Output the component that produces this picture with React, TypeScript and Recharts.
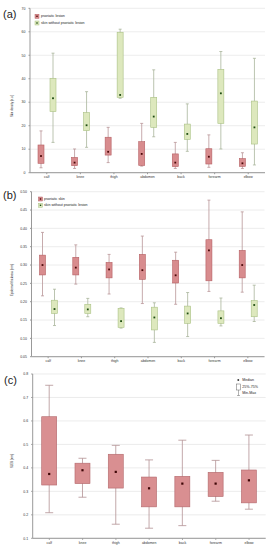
import React from "react";
import { Bar, CartesianGrid, ComposedChart, XAxis, YAxis } from "recharts";

const FONT = "'Liberation Sans', Arial, sans-serif";

const categories = ["calf", "knee", "thigh", "abdomen", "back", "forearm", "elbow"];

// every entry: [min, q1, median, q3, max]
const densityLesion = [
  [2.1, 4.0, 7.1, 11.8, 17.8],
  [1.8, 3.0, 4.3, 6.5, 10.1],
  [4.3, 7.5, 8.9, 15.1, 19.3],
  [2.8, 3.1, 8.0, 13.2, 21.0],
  [1.8, 2.6, 4.3, 8.0, 12.9],
  [2.3, 3.7, 6.8, 10.2, 16.1],
  [1.8, 2.7, 4.0, 6.0, 8.5],
];
const densityNormal = [
  [12.9, 26.0, 31.7, 40.2, 50.9],
  [10.8, 17.9, 20.2, 25.6, 34.5],
  [31.7, 32.1, 33.1, 59.8, 61.1],
  [15.3, 19.3, 23.9, 32.1, 43.8],
  [9.1, 14.2, 16.5, 20.7, 29.3],
  [10.1, 21.0, 33.8, 44.0, 51.6],
  [3.3, 12.2, 19.3, 30.5, 48.7],
];
const thicknessLesion = [
  [0.216, 0.273, 0.3, 0.327, 0.389],
  [0.248, 0.273, 0.293, 0.321, 0.355],
  [0.221, 0.265, 0.288, 0.307, 0.329],
  [0.195, 0.261, 0.286, 0.329, 0.379],
  [0.193, 0.251, 0.272, 0.313, 0.335],
  [0.228, 0.257, 0.34, 0.369, 0.477],
  [0.226, 0.265, 0.3, 0.34, 0.445],
];
const thicknessNormal = [
  [0.135, 0.168, 0.18, 0.204, 0.234],
  [0.159, 0.168, 0.179, 0.193, 0.209],
  [0.128, 0.13, 0.147, 0.182, 0.183],
  [0.089, 0.123, 0.157, 0.185, 0.197],
  [0.105, 0.141, 0.168, 0.188, 0.225],
  [0.134, 0.141, 0.155, 0.175, 0.21],
  [0.146, 0.159, 0.191, 0.203, 0.245],
];
const sleb = [
  [0.209, 0.327, 0.374, 0.618, 0.752],
  [0.275, 0.333, 0.39, 0.42, 0.441],
  [0.16, 0.314, 0.383, 0.458, 0.496],
  [0.143, 0.234, 0.313, 0.361, 0.434],
  [0.154, 0.234, 0.333, 0.364, 0.518],
  [0.258, 0.278, 0.333, 0.381, 0.432],
  [0.224, 0.251, 0.347, 0.391, 0.54],
];

const ticksA = [0, 10, 20, 30, 40, 50, 60, 70];
const ticksB = [0.05, 0.1, 0.15, 0.2, 0.25, 0.3, 0.35, 0.4, 0.45, 0.5];
const ticksC = [0.1, 0.2, 0.3, 0.4, 0.5, 0.6, 0.7, 0.8];

interface BoxStyle {
  fill: string;
  stroke: string;
  whisker: string;
  median: string;
  cap: number;
  dot: number;
}

const redSmall: BoxStyle = { fill: "#d88c8e", stroke: "#b55f63", whisker: "#b99598", median: "#4a0808", cap: 3, dot: 1.8 };
const greenSmall: BoxStyle = { fill: "#dde8bd", stroke: "#aac184", whisker: "#a9b59c", median: "#1c4a10", cap: 3, dot: 1.8 };
const redBig: BoxStyle = { fill: "#d98f91", stroke: "#b2676b", whisker: "#b39294", median: "#3e0606", cap: 8, dot: 2.2 };

const FRAME = "#999";
const GRID = "#e4e4e4";

function boxShape(key: string, s: BoxStyle) {
  return (props: any) => {
    const { x, y, width, height, payload } = props;
    const [mn, q1, md, q3, mx] = payload[key] as number[];
    const top = Math.min(y, y + height);
    const span = Math.abs(height);
    const py = (v: number) => top + (span * (mx - v)) / (mx - mn);
    const cx = x + width / 2;
    return (
      <g>
        <line x1={cx} x2={cx} y1={py(mx)} y2={py(mn)} stroke={s.whisker} strokeWidth={0.8} />
        <line x1={cx - s.cap / 2} x2={cx + s.cap / 2} y1={py(mx)} y2={py(mx)} stroke={s.whisker} strokeWidth={0.8} />
        <line x1={cx - s.cap / 2} x2={cx + s.cap / 2} y1={py(mn)} y2={py(mn)} stroke={s.whisker} strokeWidth={0.8} />
        <rect x={x} y={py(q3)} width={width} height={py(q1) - py(q3)} fill={s.fill} stroke={s.stroke} strokeWidth={0.6} />
        <rect x={cx - s.dot / 2} y={py(md) - s.dot / 2} width={s.dot} height={s.dot} fill={s.median} />
      </g>
    );
  };
}

function makeRows(a: number[][], b?: number[][]) {
  return categories.map((cat, i) => ({
    cat,
    a: a[i],
    aRange: [a[i][0], a[i][4]],
    b: b ? b[i] : undefined,
    bRange: b ? [b[i][0], b[i][4]] : undefined,
  }));
}

interface PanelProps {
  top: number;
  height: number;
  mt: number;
  mb: number;
  mr: number;
  yw: number;
  domain: [number, number];
  ticks: number[];
  digits: number;
  rows: any[];
  styles: BoxStyle[];
  barSize: number;
  barGap: number;
}

function Panel(p: PanelProps) {
  const tickFont = { fontSize: 3.5, fill: "#333", fontFamily: FONT };
  const fmt = (v: number) => (p.digits === 0 ? String(v) : v.toFixed(p.digits));
  return (
    <div style={{ position: "absolute", left: 0, top: p.top }}>
      <ComposedChart
        width={273}
        height={p.height}
        data={p.rows}
        margin={{ top: p.mt, right: p.mr, bottom: p.mb, left: 0 }}
        barGap={p.barGap}
      >
        <CartesianGrid xAxisId="b" yAxisId="l" vertical={false} stroke={GRID} strokeWidth={0.7} />
        <XAxis
          xAxisId="b"
          dataKey="cat"
          height={10}
          interval={0}
          tickSize={1.5}
          tickMargin={1.5}
          axisLine={{ stroke: FRAME }}
          tickLine={{ stroke: FRAME }}
          tick={tickFont}
        />
        <XAxis
          xAxisId="t"
          dataKey="cat"
          orientation="top"
          height={0}
          interval={0}
          tickSize={1.5}
          axisLine={{ stroke: FRAME }}
          tickLine={{ stroke: FRAME }}
          tick={false}
        />
        <YAxis
          yAxisId="l"
          width={p.yw}
          domain={p.domain}
          ticks={p.ticks}
          interval={0}
          allowDataOverflow
          tickSize={1.5}
          tickMargin={3}
          tickFormatter={fmt}
          axisLine={{ stroke: FRAME }}
          tickLine={{ stroke: FRAME }}
          tick={tickFont}
        />
        <YAxis
          yAxisId="r"
          orientation="right"
          width={0}
          domain={p.domain}
          ticks={p.ticks}
          interval={0}
          allowDataOverflow
          tickSize={1.5}
          axisLine={{ stroke: FRAME }}
          tickLine={{ stroke: FRAME }}
          tick={false}
        />
        <Bar
          xAxisId="b"
          yAxisId="l"
          dataKey="aRange"
          barSize={p.barSize}
          shape={boxShape("a", p.styles[0])}
          isAnimationActive={false}
        />
        {p.styles.length > 1 && (
          <Bar
            xAxisId="b"
            yAxisId="l"
            dataKey="bRange"
            barSize={p.barSize}
            shape={boxShape("b", p.styles[1])}
            isAnimationActive={false}
          />
        )}
      </ComposedChart>
    </div>
  );
}

function LegendIcon({ x, y, s }: { x: number; y: number; s: BoxStyle }) {
  return (
    <g>
      <rect x={x} y={y} width={4} height={4} fill={s.fill} stroke={s.stroke} strokeWidth={0.5} />
      <rect x={x + 1.3} y={y + 1.3} width={1.4} height={1.4} fill={s.median} />
    </g>
  );
}

function Annotations() {
  const t = { fontFamily: FONT, fill: "#222" };
  return (
    <svg width={273} height={550} style={{ position: "absolute", left: 0, top: 0, pointerEvents: "none" }}>
      <text x={3} y={18.4} fontSize={11} {...t}>(a)</text>
      <text x={3} y={199.4} fontSize={11} {...t}>(b)</text>
      <text x={4} y={384.4} fontSize={11} {...t}>(c)</text>

      <text transform="translate(13,106) rotate(-90)" textAnchor="middle" fontSize={2.8} {...t}>Skin density [a.u.]</text>
      <text transform="translate(13,280) rotate(-90)" textAnchor="middle" fontSize={2.8} {...t}>Epidermal thickness [mm]</text>
      <text transform="translate(13,461) rotate(-90)" textAnchor="middle" fontSize={2.8} {...t}>SLEB [mm]</text>

      <LegendIcon x={35} y={14.3} s={redSmall} />
      <text x={41} y={16.3} fontSize={3.6} dominantBaseline="central" {...t}>psoriatic lesion</text>
      <LegendIcon x={35} y={21} s={greenSmall} />
      <text x={41} y={23} fontSize={3.6} dominantBaseline="central" {...t}>skin without psoriatic lesion</text>

      <LegendIcon x={38.5} y={197} s={redSmall} />
      <text x={44} y={199} fontSize={3.6} dominantBaseline="central" {...t}>psoriatic skin</text>
      <LegendIcon x={38.5} y={203.3} s={greenSmall} />
      <text x={44} y={205.3} fontSize={3.6} dominantBaseline="central" {...t}>skin without psoriatic lesion</text>

      <rect x={237.5} y={379.2} width={1.6} height={1.6} fill="#222" />
      <text x={242.3} y={380} fontSize={3.6} dominantBaseline="central" {...t}>Median</text>
      <line x1={238.5} x2={238.5} y1={390} y2={395.5} stroke="#666" strokeWidth={0.5} />
      <line x1={237} x2={240} y1={395.5} y2={395.5} stroke="#666" strokeWidth={0.5} />
      <rect x={236.7} y={384} width={3.6} height={6} fill="#fff" stroke="#666" strokeWidth={0.5} />
      <text x={242.3} y={386.5} fontSize={3.6} dominantBaseline="central" {...t}>25%-75%</text>
      <text x={242.3} y={392.5} fontSize={3.6} dominantBaseline="central" {...t}>Min-Max</text>
    </svg>
  );
}

export default function App() {
  return (
    <div style={{ position: "relative", width: 273, height: 550, background: "#fff", overflow: "hidden" }}>
      <style>{"body{margin:0}"}</style>
      <Panel
        top={0}
        height={185}
        mt={8.3}
        mb={2.3}
        mr={8}
        yw={30}
        domain={[0, 70]}
        ticks={ticksA}
        digits={0}
        rows={makeRows(densityLesion, densityNormal)}
        styles={[redSmall, greenSmall]}
        barSize={6}
        barGap={6}
      />
      <Panel
        top={183}
        height={185}
        mt={8.7}
        mb={1.3}
        mr={8.5}
        yw={31.5}
        domain={[0.05, 0.5]}
        ticks={ticksB}
        digits={2}
        rows={makeRows(thicknessLesion, thicknessNormal)}
        styles={[redSmall, greenSmall]}
        barSize={6}
        barGap={6}
      />
      <Panel
        top={366}
        height={184}
        mt={8}
        mb={1.7}
        mr={7.3}
        yw={32.7}
        domain={[0.1, 0.8]}
        ticks={ticksC}
        digits={1}
        rows={makeRows(sleb)}
        styles={[redBig]}
        barSize={15}
        barGap={0}
      />
      <Annotations />
    </div>
  );
}
